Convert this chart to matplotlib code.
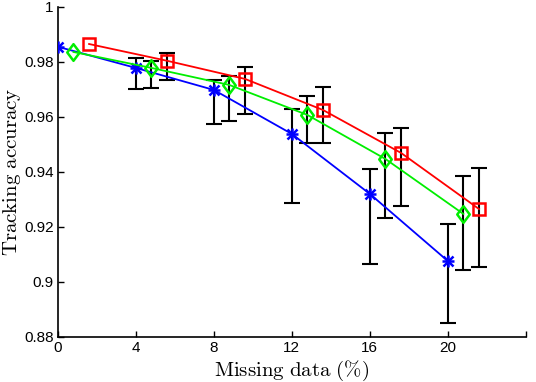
import matplotlib
matplotlib.use("Agg")
import matplotlib.pyplot as plt
from matplotlib.path import Path
import numpy as np

plt.rcParams['mathtext.fontset'] = 'cm'
plt.rcParams['font.family'] = ['Liberation Sans', 'DejaVu Sans']

missing = [0, 4, 8, 12, 16, 20]
offsets = [0.0, 0.8, 1.6]

blue_y = [0.9855, 0.9778, 0.9698, 0.9538, 0.9320, 0.9076]
blue_hi = [None, 0.9815, 0.9735, 0.9629, 0.9411, 0.9211]
blue_lo = [None, 0.9702, 0.9575, 0.9287, 0.9065, 0.8851]

green_y = [0.9836, 0.9778, 0.9716, 0.9607, 0.9447, 0.9247]
green_hi = [None, 0.9804, 0.9749, 0.9676, 0.9542, 0.9385]
green_lo = [None, 0.9705, 0.9585, 0.9505, 0.9233, 0.9044]

red_y = [0.9865, 0.9804, 0.9738, 0.9625, 0.9469, 0.9265]
red_hi = [None, 0.9833, 0.9782, 0.9709, 0.9560, 0.9415]
red_lo = [None, 0.9735, 0.9611, 0.9505, 0.9276, 0.9055]

xticks = [0, 4, 8, 12, 16, 20, 24]
xticklabels = ['0', '4', '8', '12', '16', '20', '']
yticks = [0.88, 0.9, 0.92, 0.94, 0.96, 0.98, 1.0]
yticklabels = ['0.88', '0.9', '0.92', '0.94', '0.96', '0.98', '1']

diamond = Path([(0, 1), (0.75, 0), (0, -1), (-0.75, 0), (0, 1)],
               [Path.MOVETO, Path.LINETO, Path.LINETO, Path.LINETO, Path.CLOSEPOLY])

fig = plt.figure(figsize=(5.36, 3.82), dpi=100)
ax = fig.add_axes([0.108, 0.118, 0.873, 0.864])

series = [
    (blue_y, blue_hi, blue_lo, '#0000ff', '+', 9, offsets[0]),
    (green_y, green_hi, green_lo, '#00ee00', diamond, 12, offsets[1]),
    (red_y, red_hi, red_lo, '#ff0000', 's', 8.5, offsets[2]),
]

for y, hi, lo, col, mk, ms, off in series:
    x = np.array(missing) + off
    ax.plot(x, y, color=col, lw=1.3, marker=mk, ms=ms, mfc='none',
            mec=col, mew=1.8, zorder=3)
    if mk == '+':
        ax.plot(x, y, ls='none', marker='x', ms=ms * 0.75, mec=col, mew=1.8, zorder=3)
    idx = [i for i in range(len(y)) if hi[i] is not None]
    xe = x[idx]
    ye = np.array([y[i] for i in idx])
    err = np.array([[y[i] - lo[i] for i in idx], [hi[i] - y[i] for i in idx]])
    ax.errorbar(xe, ye, yerr=err, fmt='none', ecolor='black', elinewidth=1.5,
                capsize=6, capthick=1.5, zorder=2)

ax.set_xlim(0, 24)
ax.set_ylim(0.88, 1.0)
ax.set_xticks(xticks)
ax.set_xticklabels(xticklabels)
ax.set_yticks(yticks)
ax.set_yticklabels(yticklabels)
ax.tick_params(direction='in', length=4, width=1, labelsize=11, pad=3)
for s in ['top', 'right']:
    ax.spines[s].set_visible(False)
for s in ['left', 'bottom']:
    ax.spines[s].set_linewidth(1.2)

ax.set_xlabel(r'$\mathrm{Missing\ data\ (\%)}$', fontsize=15)
ax.set_ylabel(r'$\mathrm{Tracking\ accuracy}$', fontsize=15)
ax.xaxis.set_label_coords(0.5, -0.066)
ax.yaxis.set_label_coords(-0.074, 0.5)

fig.savefig('out.png', dpi=100)
